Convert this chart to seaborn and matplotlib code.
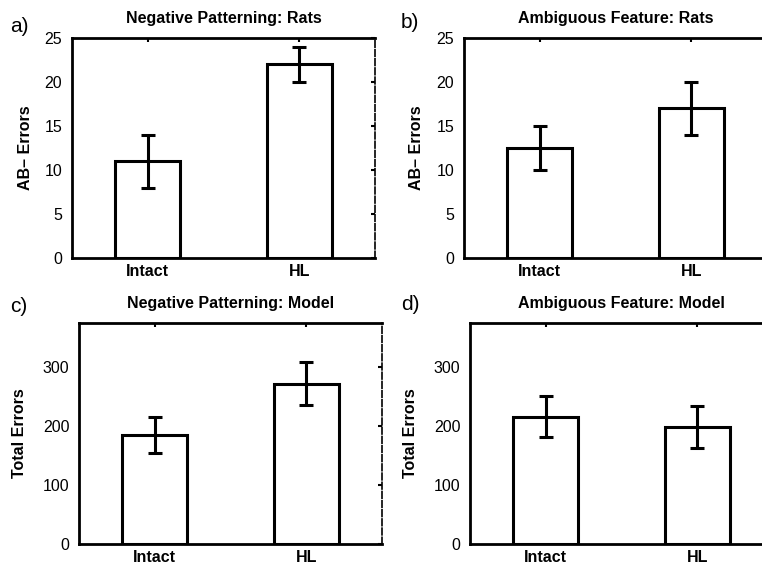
import matplotlib
matplotlib.use("Agg")
import matplotlib.pyplot as plt
import seaborn as sns
import pandas as pd

sns.set_style("white")
plt.rcParams['font.family'] = ['Liberation Sans', 'DejaVu Sans']
for key in ["text.color", "axes.labelcolor", "xtick.color", "ytick.color",
            "axes.edgecolor"]:
    plt.rcParams[key] = "black"

categories = ["Intact", "HL"]

titles = ["Negative Patterning: Rats", "Ambiguous Feature: Rats",
          "Negative Patterning: Model", "Ambiguous Feature: Model"]
panel_labels = ["a)", "b)", "c)", "d)"]
ylabels = ["AB\u2013 Errors", "AB\u2013 Errors", "Total Errors", "Total Errors"]

np_rats_mean = [11, 22]
np_rats_err = [3, 2]
af_rats_mean = [12.5, 17]
af_rats_err = [2.5, 3]
np_model_mean = [185, 272]
np_model_err = [31, 36]
af_model_mean = [216, 199]
af_model_err = [35, 36]

rat_ticks = [0, 5, 10, 15, 20, 25]
model_ticks = [0, 100, 200, 300]

means = [np_rats_mean, af_rats_mean, np_model_mean, af_model_mean]
errs = [np_rats_err, af_rats_err, np_model_err, af_model_err]
yticks = [rat_ticks, rat_ticks, model_ticks, model_ticks]
ylims = [(0, 25), (0, 25), (0, 375), (0, 375)]

W, H = 762, 565
fig = plt.figure(figsize=(W / 100, H / 100), dpi=100)

# axes boxes in pixels: left, top, right, bottom
boxes = [(72, 38, 375, 258), (464, 38, 767, 258),
         (79, 323, 382, 544), (470, 323, 773, 544)]
label_pos = [(10, 26), (401, 22), (10, 306), (401, 305)]
ylabel_x = [33, 424, 27, 418]

for i in range(4):
    l, t, r, b = boxes[i]
    ax = fig.add_axes([l / W, 1 - b / H, (r - l) / W, (b - t) / H])
    df = pd.DataFrame({"cat": categories, "val": means[i]})
    sns.barplot(data=df, x="cat", y="val", ax=ax, color="white",
                edgecolor="black", linewidth=2.2, width=0.43, errorbar=None,
                saturation=1)
    ax.errorbar([0, 1], means[i], yerr=errs[i], fmt="none", ecolor="black",
                elinewidth=2.2, capsize=5, capthick=2.2, zorder=5)
    ax.set_xlim(-0.5, 1.5)
    ax.set_ylim(*ylims[i])
    ax.set_yticks(yticks[i])
    ax.set_xlabel("")
    ax.set_ylabel(ylabels[i], fontsize=11.5, fontweight="bold", color="black")
    ax.yaxis.set_label_coords(ylabel_x[i] / W, 1 - (t + b) / 2 / H,
                              transform=fig.transFigure)
    ax.set_title(titles[i], fontsize=11.5, fontweight="bold", pad=11,
                 color="black")
    ax.tick_params(direction="in", top=True, right=True, bottom=False,
                   labeltop=False, labelright=False, length=3, width=1.5,
                   color="black", labelcolor="black", labelsize=11.5)
    ax.tick_params(axis="y", pad=7)
    ax.tick_params(axis="x", pad=4)
    for lab in ax.get_xticklabels():
        lab.set_fontweight("bold")
    for side in ["top", "bottom", "left"]:
        ax.spines[side].set_linewidth(2.0)
        ax.spines[side].set_color("black")
    ax.spines["right"].set_linewidth(1.2)
    ax.spines["right"].set_linestyle((0, (4, 1.5)))
    ax.spines["right"].set_color("black")
    fig.text(label_pos[i][0] / W, 1 - label_pos[i][1] / H, panel_labels[i],
             fontsize=15, va="center", ha="left", color="black")

fig.savefig("out.png", dpi=100)
